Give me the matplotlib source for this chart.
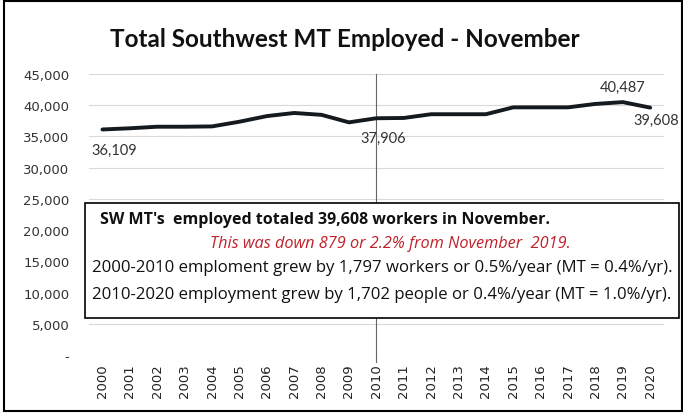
import matplotlib
matplotlib.use("Agg")
import matplotlib.pyplot as plt
from matplotlib.patches import Rectangle

years = [str(y) for y in range(2000, 2021)]
employed = [36109, 36300, 36550, 36550, 36600, 37350, 38250, 38750, 38450, 37250,
            37906, 37950, 38550, 38550, 38550, 39650, 39650, 39650, 40200, 40487, 39608]
y_ticks = [0, 5000, 10000, 15000, 20000, 25000, 30000, 35000, 40000, 45000]
y_tick_labels = ["-", "5,000", "10,000", "15,000", "20,000", "25,000",
                 "30,000", "35,000", "40,000", "45,000"]
title = "Total Southwest MT Employed - November"
box_lines = [
    "SW MT's  employed totaled 39,608 workers in November.",
    "This was down 879 or 2.2% from November  2019.",
    "2000-2010 emploment grew by 1,797 workers or 0.5%/year (MT = 0.4%/yr).",
    "2010-2020 employment grew by 1,702 people or 0.4%/year (MT = 1.0%/yr).",
]

plt.rcParams['font.family'] = ['Lato', 'DejaVu Sans']

fig = plt.figure(figsize=(6.83, 4.14), dpi=100)
ax = fig.add_axes([0.130, 0.140, 0.842, 0.679])

x = list(range(len(years)))
ax.plot(x, employed, color='#151a1e', lw=2.8, solid_joinstyle='round',
        solid_capstyle='round', zorder=3)

ax.set_xlim(-0.5, len(years) - 0.5)
ax.set_ylim(0, 45000)
ax.set_yticks(y_ticks)
ax.set_yticklabels(y_tick_labels, family='DejaVu Sans', fontsize=9.5, color='#333333')
ax.set_xticks(x)
ax.set_xticklabels(years, rotation=90, family='DejaVu Sans', fontsize=9.5, color='#222222')
ax.tick_params(length=0, pad=6)
ax.tick_params(axis='y', pad=14)
ax.grid(axis='y', color='#d9d9d9', lw=0.8)
for s in ax.spines.values():
    s.set_visible(False)

# vertical marker at 2010
i10 = years.index('2010')
ax.axvline(i10, ymin=-0.025, ymax=1.0, color='#666666', lw=0.8, clip_on=False, zorder=2)

# data labels
lab_kw = dict(fontsize=10.5, color='#333333')
ax.annotate(f"{employed[0]:,}", (0, employed[0]), xytext=(-8, -15),
            textcoords='offset points', ha='left', va='center', **lab_kw)
ax.annotate(f"{employed[i10]:,}", (i10, employed[i10]), xytext=(5, -14),
            textcoords='offset points', ha='center', va='center', **lab_kw)
ax.annotate(f"{employed[-2]:,}", (len(years) - 2, employed[-2]), xytext=(0, 11),
            textcoords='offset points', ha='center', va='center', **lab_kw)
ax.annotate(f"{employed[-1]:,}", (len(years) - 1, employed[-1]), xytext=(4, -9),
            textcoords='offset points', ha='center', va='center', **lab_kw)

fig.text(0.505, 0.905, title, ha='center', va='center', fontsize=17.5,
         fontweight='bold', color='#111111')

# annotation box
fig.add_artist(Rectangle((0.1245, 0.2295), 0.8697, 0.2778, transform=fig.transFigure,
                         facecolor='white', edgecolor='black', lw=1.2, zorder=5))
box_font = ['Open Sans', 'DejaVu Sans']
fig.text(0.146, 0.4686, box_lines[0], ha='left', va='center', fontsize=11.5,
         fontweight='bold', color='#111111', family=box_font, zorder=6)
fig.text(0.571, 0.4106, box_lines[1], ha='center', va='center', fontsize=11.7,
         style='italic', color='#c0202a', family=box_font, zorder=6)
fig.text(0.134, 0.3527, box_lines[2], ha='left', va='center', fontsize=12.1,
         color='#111111', family=box_font, zorder=6)
fig.text(0.134, 0.2874, box_lines[3], ha='left', va='center', fontsize=12.1,
         color='#111111', family=box_font, zorder=6)

# outer frame
fig.add_artist(Rectangle((0.006, 0.006), 0.992, 0.988, transform=fig.transFigure,
                         facecolor='none', edgecolor='black', lw=1.5))

fig.savefig('out.png', dpi=100)
